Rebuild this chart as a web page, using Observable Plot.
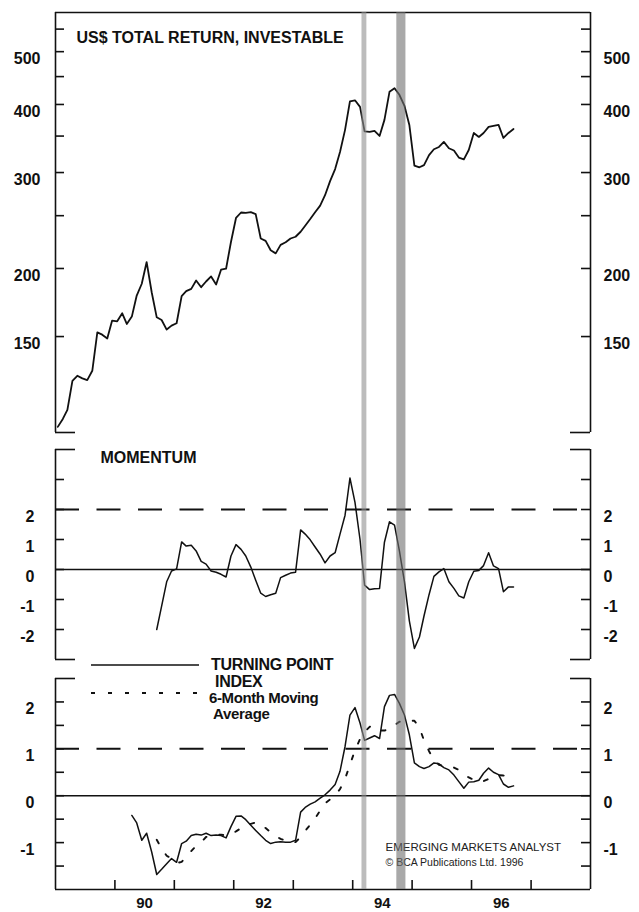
<!DOCTYPE html>
<html>
<head>
<meta charset="utf-8">
<script src="https://cdn.jsdelivr.net/npm/d3@7"></script>
<script src="https://cdn.jsdelivr.net/npm/@observablehq/plot@0.6"></script>
<style>
  html, body { margin: 0; padding: 0; background: #fff; }
  #chart { position: relative; width: 639px; height: 912px; font-family: "Liberation Sans", Arial, sans-serif; color: #111; }
  #chart svg { position: absolute; left: 0; background: transparent; overflow: visible; }
  #legend text { font-family: "Liberation Sans", Arial, sans-serif; font-weight: bold; fill: #111; }
</style>
</head>
<body>
<div id="chart">
  <svg id="legend" width="639" height="80" style="top:650px">
    <line x1="91" x2="199" y1="15" y2="15" stroke="#111" stroke-width="1.5"></line>
    <line x1="91" x2="206" y1="43" y2="43" stroke="#111" stroke-width="1.8" stroke-dasharray="4,13"></line>
    <text x="211" y="20" font-size="16" letter-spacing="-0.3">TURNING POINT</text>
    <text x="215" y="37" font-size="16" letter-spacing="-0.3">INDEX</text>
    <text x="209" y="53" font-size="15" letter-spacing="-0.4">6-Month Moving</text>
    <text x="213" y="69" font-size="15" letter-spacing="-0.3">Average</text>
  </svg>
</div>
<script>
// ---- data (monthly, mid-month) ----
const priceStart = "1989-01";
const priceIndex = [102.4, 105.9, 110.0, 124.4, 127.1, 125.7, 124.8, 129.8, 152.7, 151.2,
  148.8, 160.5, 160.0, 165.5, 158.2, 163.2, 178.4, 187.5, 205.5, 180.9,
  162.7, 160.9, 154.5, 157.1, 158.7, 177.9, 181.7, 183.5, 190.1, 184.8,
  189.3, 193.4, 186.9, 199.0, 199.8, 223.7, 247.6, 253.4, 253.0, 253.7,
  251.6, 227.0, 224.7, 216.0, 213.2, 221.0, 223.4, 227.0, 228.7, 233.6,
  239.6, 246.5, 253.7, 260.8, 272.6, 289.3, 304.4, 327.2, 359.3, 405.3,
  407.1, 396.0, 357.0, 356.2, 357.7, 350.2, 374.8, 422.0, 428.4, 416.7,
  397.7, 366.9, 309.0, 306.7, 309.6, 323.0, 331.0, 334.2, 341.5, 332.4,
  329.3, 319.6, 317.2, 330.0, 354.6, 348.7, 354.6, 363.8, 365.3, 366.9,
  347.2, 354.6, 360.7];

const momentumStart = "1990-09";
const momentum = [-2.00, -1.22, -0.41, -0.05, 0.02, 0.92, 0.78, 0.81, 0.62, 0.27,
  0.18, -0.05, -0.09, -0.16, -0.25, 0.45, 0.83, 0.67, 0.45, 0.08,
  -0.36, -0.79, -0.90, -0.84, -0.79, -0.27, -0.19, -0.12, -0.09, 1.32,
  1.18, 0.99, 0.75, 0.51, 0.22, 0.45, 0.56, 1.18, 1.81, 3.05,
  2.24, 1.00, -0.52, -0.67, -0.64, -0.63, 0.91, 1.59, 1.48, 0.62,
  -0.41, -1.71, -2.63, -2.25, -1.55, -0.84, -0.23, -0.08, 0.03, -0.41,
  -0.63, -0.88, -0.95, -0.41, -0.06, -0.03, 0.13, 0.56, 0.12, 0.03,
  -0.74, -0.58, -0.58];

const tpiStart = "1990-04";
const turningPoint = [-0.42, -0.58, -0.95, -0.80, -1.20, -1.68, -1.57, -1.45, -1.34, -1.42,
  -1.02, -0.97, -0.85, -0.82, -0.84, -0.80, -0.85, -0.84, -0.85, -0.90,
  -0.66, -0.44, -0.43, -0.51, -0.63, -0.74, -0.85, -0.95, -1.02, -0.99,
  -0.98, -0.99, -0.99, -0.95, -0.35, -0.25, -0.18, -0.13, -0.05, 0.02,
  0.12, 0.24, 0.52, 1.05, 1.72, 1.88, 1.55, 1.18, 1.23, 1.28,
  1.22, 1.90, 2.14, 2.16, 1.97, 1.72, 1.30, 0.70, 0.62, 0.58,
  0.62, 0.70, 0.68, 0.60, 0.55, 0.44, 0.30, 0.16, 0.29, 0.30,
  0.33, 0.48, 0.59, 0.50, 0.45, 0.25, 0.18, 0.21];

const maStart = "1990-09";
const movingAverage = [-0.94, -1.13, -1.28, -1.34, -1.44, -1.41, -1.30, -1.18, -1.07, -0.99,
  -0.88, -0.86, -0.83, -0.83, -0.85, -0.82, -0.76, -0.69, -0.63, -0.60,
  -0.57, -0.60, -0.69, -0.78, -0.86, -0.92, -0.96, -0.99, -0.99, -0.88,
  -0.75, -0.62, -0.48, -0.32, -0.16, -0.08, 0.01, 0.14, 0.36, 0.66,
  0.97, 1.21, 1.36, 1.47, 1.48, 1.39, 1.39, 1.42, 1.50, 1.58,
  1.58, 1.60, 1.60, 1.45, 1.18, 0.95, 0.77, 0.66, 0.63, 0.62,
  0.60, 0.55, 0.46, 0.39, 0.34, 0.30, 0.31, 0.36, 0.42, 0.44,
  0.43, 0.41, 0.36];

// shaded signal periods
const signalBands = [
  {start: "1994-02-27", end: "1994-03-29"},
  {start: "1994-09-29", end: "1994-11-24"}
];

// axis ticks and labels
const priceTicks = [550, 500, 450, 400, 350, 300, 250, 200, 150];
const priceLabels = [500, 400, 300, 200, 150];
const momentumTicks = [3, 2, 1, 0, -1, -2];
const momentumLabels = [2, 1, 0, -1, -2];
const tpiTicks = [2, 1.5, 1, 0.5, 0, -0.5, -1, -1.5];
const tpiLabels = [2, 1, 0, -1];
const yearTicks = ["1990", "1991", "1992", "1993", "1994", "1995", "1996", "1997"];
const yearLabels = ["1990", "1992", "1994", "1996"];

// ---- helpers ----
const utc = s => { const [y, m = 1, d = 1] = s.split("-").map(Number); return new Date(Date.UTC(y, m - 1, d)); };
function monthly(start, values) {
  const [y, m] = start.split("-").map(Number);
  return values.map((v, i) => ({date: new Date(Date.UTC(y, m - 1 + i, 15)), value: v}));
}
const bands = signalBands.map(b => ({start: utc(b.start), end: utc(b.end)}));
const bandFill = (d, i) => i === 0 ? "#8f8f8f" : "#6f6f6f";
const bandOpacity = 0.6;

const W = 639, ML = 55, MR = 49, FW = W - ML - MR;
const xDomain = [utc("1989-01-01"), utc("1998-01-01")];
const FONT = '"Liberation Sans", Arial, sans-serif';
const INK = "#111";
const svgStyle = {background: "transparent", overflow: "visible", fontFamily: FONT, fontSize: "16px", fontWeight: "bold", color: INK};

function sideTicks(values, size) {
  return [
    Plot.tickY(values, {y: d => d, insetRight: FW - size, stroke: INK, strokeWidth: 1.6}),
    Plot.tickY(values, {y: d => d, insetLeft: FW - size, stroke: INK, strokeWidth: 1.6})
  ];
}
function sideLabels(values, padLeft) {
  return [
    Plot.axisY(values, {anchor: "left", tickSize: 0, tickPadding: padLeft, dy: 7, tickFormat: d => String(d), label: null, fontSize: 16, fontWeight: "bold"}),
    Plot.axisY(values, {anchor: "right", tickSize: 0, tickPadding: 13, dy: 7, textAnchor: "start", tickFormat: d => String(d), label: null, fontSize: 16, fontWeight: "bold"})
  ];
}
const sideBorders = () => Plot.ruleX(xDomain, {x: d => d, stroke: INK, strokeWidth: 1.6});

// ---- panel 1: US$ total return (log scale) ----
const priceDomain = [100, 590];
const p1 = Plot.plot({
  width: W, height: 440, marginLeft: ML, marginRight: MR, marginTop: 12, marginBottom: 8,
  style: svgStyle,
  x: {type: "utc", domain: xDomain, axis: null},
  y: {type: "log", domain: priceDomain, axis: null},
  marks: [
    sideBorders(),
    Plot.ruleY([priceDomain[1]], {stroke: INK, strokeWidth: 1.6}),
    ...sideTicks([priceDomain[0]], 20),
    ...sideTicks(priceTicks, 9),
    ...sideLabels(priceLabels, 15),
    Plot.line(monthly(priceStart, priceIndex), {x: "date", y: "value", stroke: INK, strokeWidth: 1.8}),
    Plot.text(["US$ TOTAL RETURN, INVESTABLE"], {frameAnchor: "top-left", dx: 21, dy: 19, textAnchor: "start", fontSize: 16, fontWeight: "bold", letterSpacing: "-0.3px", fill: INK}),
    Plot.rect(bands, {x1: "start", x2: "end", fill: bandFill, fillOpacity: bandOpacity})
  ]
});

// ---- panel 2: momentum ----
const momentumDomain = [-3, 4];
const p2 = Plot.plot({
  width: W, height: 225, marginLeft: ML, marginRight: MR, marginTop: 9, marginBottom: 6,
  style: svgStyle,
  x: {type: "utc", domain: xDomain, axis: null},
  y: {domain: momentumDomain, axis: null},
  marks: [
    sideBorders(),
    ...sideTicks(momentumDomain, 20),
    ...sideTicks(momentumTicks, 9),
    ...sideLabels(momentumLabels, 21),
    Plot.ruleY([0], {stroke: INK, strokeWidth: 1.6}),
    Plot.ruleY([2], {stroke: INK, strokeWidth: 2, strokeDasharray: "24,17.5"}),
    Plot.line(monthly(momentumStart, momentum), {x: "date", y: "value", stroke: INK, strokeWidth: 1.5}),
    Plot.text(["MOMENTUM"], {frameAnchor: "top-left", dx: 45, dy: 2, textAnchor: "start", fontSize: 16, fontWeight: "bold", letterSpacing: "-0.4px", fill: INK}),
    Plot.rect(bands, {x1: "start", x2: "end", insetTop: -17, insetBottom: -19, fill: bandFill, fillOpacity: bandOpacity})
  ]
});

// ---- panel 3: turning point index ----
const tpiDomain = [-2, 2.5];
const FH3 = 211;
const p3 = Plot.plot({
  width: W, height: 247, marginLeft: ML, marginRight: MR, marginTop: 13, marginBottom: 23,
  style: svgStyle,
  x: {type: "utc", domain: xDomain, axis: null},
  y: {domain: tpiDomain, axis: null},
  marks: [
    sideBorders(),
    Plot.ruleY([tpiDomain[0]], {stroke: INK, strokeWidth: 1.6}),
    ...sideTicks([tpiDomain[1]], 20),
    ...sideTicks(tpiTicks, 9),
    ...sideLabels(tpiLabels, 21),
    Plot.tickX(yearTicks.map(utc), {x: d => d, insetTop: FH3 - 9, stroke: INK, strokeWidth: 1.6}),
    Plot.axisX(yearLabels.map(y => utc(y + "-07-02")), {anchor: "bottom", tickSize: 0, tickPadding: 8, tickFormat: d => d3.utcFormat("%y")(d), label: null, fontSize: 15, fontWeight: "bold"}),
    Plot.ruleY([0], {stroke: INK, strokeWidth: 1.6}),
    Plot.ruleY([1], {stroke: INK, strokeWidth: 2, strokeDasharray: "24,17.5"}),
    Plot.line(monthly(tpiStart, turningPoint), {x: "date", y: "value", stroke: INK, strokeWidth: 1.5}),
    Plot.line(monthly(maStart, movingAverage), {x: "date", y: "value", stroke: INK, strokeWidth: 1.9, strokeDasharray: "4,13"}),
    Plot.text(["EMERGING MARKETS ANALYST"], {frameAnchor: "top-left", dx: 330, dy: 164, textAnchor: "start", fontSize: 11.5, fontWeight: "normal", fill: "#222"}),
    Plot.text(["\u00A9 BCA Publications Ltd. 1996"], {frameAnchor: "top-left", dx: 330, dy: 180, textAnchor: "start", fontSize: 10.5, fontWeight: "normal", fill: "#222"}),
    Plot.rect(bands, {x1: "start", x2: "end", fill: bandFill, fillOpacity: bandOpacity})
  ]
});

const chart = document.getElementById("chart");
[[p1, 0], [p2, 440], [p3, 665]].forEach(([svg, top]) => {
  svg.style.position = "absolute";
  svg.style.top = top + "px";
  svg.style.left = "0px";
  chart.appendChild(svg);
});
</script>
</body>
</html>
